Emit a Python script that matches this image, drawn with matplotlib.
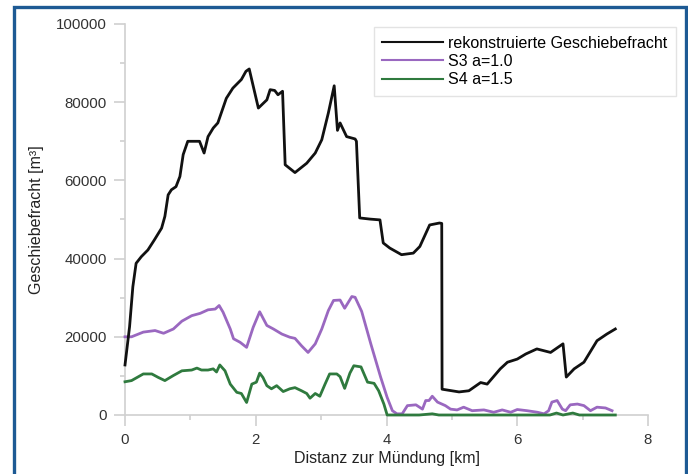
import matplotlib
matplotlib.use("Agg")
import matplotlib.pyplot as plt
from matplotlib.patches import Rectangle
from matplotlib.ticker import MultipleLocator

plt.rcParams['font.family'] = ['Liberation Sans', 'DejaVu Sans']

# reconstructed bed load
x_rek = [0.00, 0.07, 0.12, 0.17, 0.25, 0.35, 0.45, 0.56, 0.61, 0.66, 0.71, 0.78, 0.84, 0.89,
         0.96, 1.14, 1.21, 1.27, 1.35, 1.42, 1.55, 1.65, 1.78, 1.85, 1.90, 2.04, 2.17, 2.22,
         2.29, 2.34, 2.41, 2.45, 2.60, 2.78, 2.91, 3.01, 3.11, 3.20, 3.25, 3.29, 3.39, 3.52,
         3.54, 3.59, 3.75, 3.90, 3.95, 4.05, 4.23, 4.41, 4.51, 4.66, 4.81, 4.845, 4.85, 5.11,
         5.26, 5.44, 5.54, 5.74, 5.85, 6.00, 6.13, 6.30, 6.51, 6.70, 6.75, 6.87, 7.02, 7.22,
         7.37, 7.50]
y_rek = [12800, 22600, 32800, 38800, 40500, 42200, 44800, 47800, 50800, 56300, 57600, 58400,
         61000, 66600, 70000, 70000, 67000, 71200, 73400, 74700, 81000, 83600, 85800, 87900,
         88500, 78500, 80600, 83200, 83000, 81900, 82800, 64000, 62000, 64400, 67000, 70400,
         77200, 84200, 72800, 74700, 71200, 70600, 70000, 50400, 50100, 49900, 44000, 42700,
         41000, 41400, 43100, 48600, 49100, 49000, 6600, 5900, 6200, 8300, 7900, 11800, 13500,
         14300, 15600, 16900, 16000, 18200, 9700, 11800, 13500, 19000, 20700, 22000]

# S3 a=1.0
x_s3 = [0.00, 0.10, 0.28, 0.46, 0.59, 0.74, 0.87, 1.02, 1.15, 1.27, 1.38, 1.44, 1.50, 1.61,
        1.66, 1.76, 1.86, 1.96, 2.06, 2.17, 2.27, 2.40, 2.52, 2.60, 2.70, 2.80, 2.91, 3.01,
        3.11, 3.19, 3.29, 3.36, 3.47, 3.52, 3.62, 3.76, 3.91, 4.01, 4.09, 4.16, 4.24, 4.32,
        4.45, 4.55, 4.60, 4.65, 4.70, 4.78, 4.90, 4.98, 5.08, 5.18, 5.31, 5.49, 5.64, 5.77,
        5.90, 6.00, 6.15, 6.31, 6.41, 6.48, 6.53, 6.61, 6.69, 6.74, 6.81, 6.92, 7.02, 7.12,
        7.22, 7.35, 7.45]
y_s3 = [20000, 20000, 21200, 21600, 20900, 22000, 24000, 25400, 26000, 26900, 27100, 28000,
        26300, 22000, 19500, 18600, 17300, 22400, 26400, 22900, 22000, 20700, 19900, 19600,
        17700, 16000, 18200, 22000, 26700, 29300, 29400, 27300, 30300, 30100, 26500, 18200,
        9700, 4500, 1100, 300, 300, 2400, 2600, 1500, 3700, 3700, 4800, 3300, 2400, 1500,
        1300, 2000, 1100, 1300, 700, 1300, 700, 1400, 1100, 700, 300, 1100, 3300, 3700, 1500,
        1100, 2600, 2800, 2400, 1100, 2000, 1800, 1100]

# S4 a=1.5
x_s4 = [0.00, 0.10, 0.28, 0.41, 0.51, 0.61, 0.74, 0.87, 1.02, 1.10, 1.17, 1.27, 1.35, 1.40,
        1.45, 1.53, 1.61, 1.71, 1.78, 1.86, 1.94, 2.01, 2.06, 2.11, 2.17, 2.24, 2.32, 2.42,
        2.52, 2.60, 2.70, 2.78, 2.83, 2.91, 2.98, 3.06, 3.13, 3.24, 3.29, 3.36, 3.44, 3.50,
        3.61, 3.71, 3.81, 3.88, 3.96, 4.01, 4.50, 4.70, 4.80, 5.50, 6.50, 6.60, 6.70, 6.85,
        6.95, 7.50]
y_s4 = [8500, 8800, 10500, 10500, 9600, 8800, 10100, 11300, 11500, 12000, 11500, 11500, 11800,
        11000, 12800, 11300, 7900, 5800, 5500, 3200, 7900, 8400, 10700, 9600, 7500, 6700, 7500,
        6000, 6700, 7000, 6200, 5500, 4300, 5500, 4800, 7900, 10500, 10500, 9800, 6800, 10700,
        12600, 12300, 8400, 8100, 6200, 2800, 0, 0, 300, 0, 0, 0, 500, 0, 500, 0, 0]

xticks = [0, 2, 4, 6, 8]
yticks = [0, 20000, 40000, 60000, 80000, 100000]

fig = plt.figure(figsize=(6.88, 4.74), dpi=100)
fig.patch.set_facecolor('white')
ax = fig.add_axes([125/688, 1 - 415/474, (648 - 125)/688, (415 - 24)/474])

ax.plot(x_rek, y_rek, color='#111111', lw=2.0, label='rekonstruierte Geschiebefracht',
        clip_on=False, zorder=4)
ax.plot(x_s3, y_s3, color='#9a68c0', lw=2.0, label='S3 a=1.0', clip_on=False, zorder=3)
ax.plot(x_s4, y_s4, color='#2f7a3e', lw=2.0, label='S4 a=1.5', clip_on=False, zorder=3)

ax.set_xlim(0, 8)
ax.set_ylim(0, 100000)
ax.set_xticks(xticks)
ax.set_yticks(yticks)
ax.set_xticklabels([str(v) for v in xticks])
ax.set_yticklabels([str(v) for v in yticks])
ax.xaxis.set_minor_locator(MultipleLocator(1))
ax.yaxis.set_minor_locator(MultipleLocator(10000))
ax.tick_params(which='major', length=8, width=1.2, color='#d0d0d0', labelsize=10.8,
               labelcolor='#333333', pad=5)
ax.tick_params(which='minor', length=3.5, width=1.2, color='#d0d0d0')
for s in ['top', 'right']:
    ax.spines[s].set_visible(False)
for s in ['left', 'bottom']:
    ax.spines[s].set_color('#d0d0d0')
    ax.spines[s].set_linewidth(1.2)

ax.set_xlabel('Distanz zur Mündung [km]', fontsize=11.5, color='#222222', labelpad=3)
ax.set_ylabel('Geschiebefracht [m³]', fontsize=11.5, color='#222222', labelpad=9)

leg = ax.legend(loc='upper right', bbox_to_anchor=(676/688, 1 - 27/474),
                bbox_transform=fig.transFigure, fontsize=11.5, frameon=True,
                fancybox=False, edgecolor='#dddddd', handlelength=3.8,
                borderpad=0.55, labelspacing=0.2, handletextpad=0.3, borderaxespad=0)
leg.get_frame().set_linewidth(1.0)
for line in leg.get_lines():
    line.set_linewidth(1.5)

fig.add_artist(Rectangle((13.5/688, -0.01), (685.5 - 13.5)/688, 1.01 - 6.5/474,
                         transform=fig.transFigure, fill=False, edgecolor='#1d5a94',
                         linewidth=2.4, clip_on=False))

fig.savefig('out.png', dpi=100)
